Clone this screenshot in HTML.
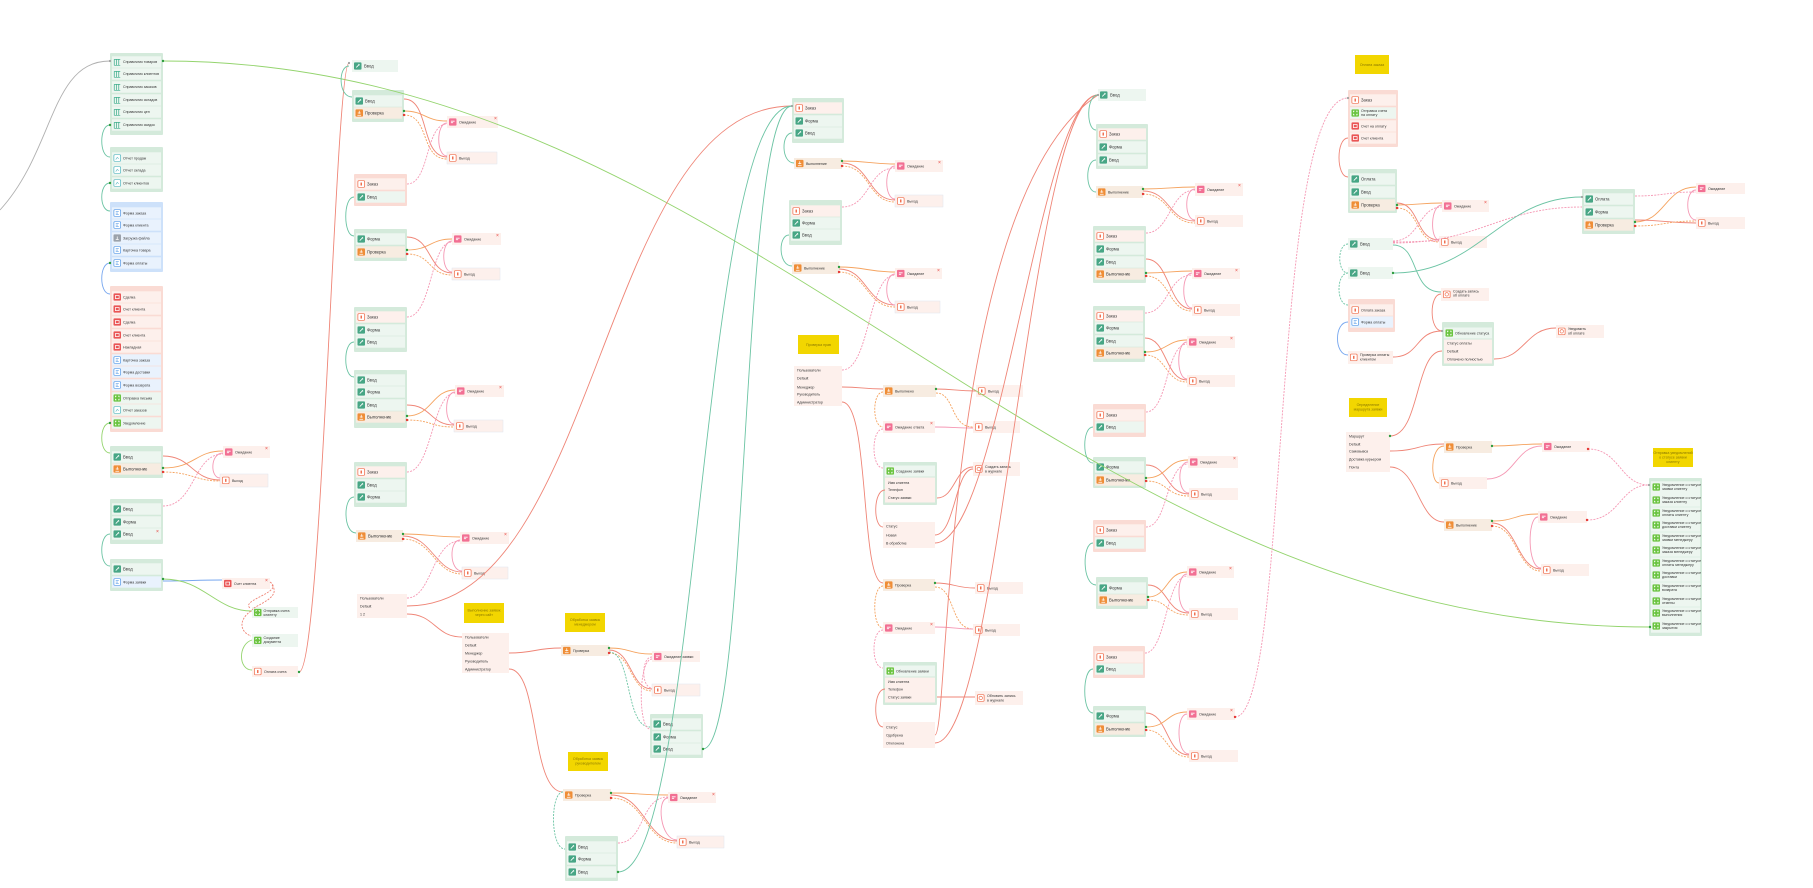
<!DOCTYPE html>
<html><head><meta charset="utf-8"><style>
html,body{margin:0;padding:0;background:#fff;}
svg{display:block;}
.t{font-family:"Liberation Sans",sans-serif;font-size:4.2px;fill:#333;}
.s{font-family:"Liberation Sans",sans-serif;font-size:3.6px;fill:#333;}
.n{font-family:"Liberation Sans",sans-serif;font-size:3.6px;fill:#8a7800;text-anchor:middle;}
.x{font-family:"Liberation Sans",sans-serif;font-size:5px;fill:#e53935;}
.L path{fill:none;stroke-width:0.9;}
.o{stroke:#f5a461;}
.r{stroke:#ef8577;}
.p{stroke:#f598b4;stroke-dasharray:2 1.2;}
.ps{stroke:#f598b4;}
.tl{stroke:#6cc4a4;}
.td{stroke:#6cc4a4;stroke-dasharray:2 1.2;}
.od{stroke:#f5a461;stroke-dasharray:2 1.2;}
.rd{stroke:#ef8577;stroke-dasharray:2 1.2;}
.g{stroke:#94d46e;}
.b{stroke:#77a7ef;}
.gr{stroke:#b0b0b0;}
</style></head><body>
<svg width="1813" height="888" viewBox="0 0 1813 888" xmlns="http://www.w3.org/2000/svg">
<defs>
<symbol id="iT" viewBox="0 0 10 10"><rect width="10" height="10" rx="1.5" fill="#47a685"/><path d="M3 7L7 3M6 2.5l1.5 1.5" stroke="#fff" stroke-width="1.1" fill="none"/></symbol>
<symbol id="iO" viewBox="0 0 10 10"><rect width="10" height="10" rx="1.5" fill="#ef8d36"/><path d="M5 2v4M3 5h4M2.5 8h5" stroke="#fff" stroke-width="1" fill="none"/></symbol>
<symbol id="iRo" viewBox="0 0 10 10"><rect x=".5" y=".5" width="9" height="9" rx="1.5" fill="#fff" stroke="#f07050"/><rect x="4" y="3" width="2" height="4" fill="#f07050"/></symbol>
<symbol id="iP" viewBox="0 0 10 10"><rect width="10" height="10" rx="1.5" fill="#f26f93"/><path d="M2.5 4h5M2.5 6h3" stroke="#fff" stroke-width="1.1" fill="none"/></symbol>
<symbol id="iR" viewBox="0 0 10 10"><rect width="10" height="10" rx="1.5" fill="#ea5555"/><rect x="2.5" y="3" width="5" height="4" fill="none" stroke="#fff" stroke-width="1"/></symbol>
<symbol id="iG" viewBox="0 0 10 10"><rect width="10" height="10" rx="1.5" fill="#6bc441"/><path d="M2.5 4V2.5H4M6 2.5h1.5V4M7.5 6v1.5H6M4 7.5H2.5V6" stroke="#fff" stroke-width="1" fill="none"/></symbol>
<symbol id="iB" viewBox="0 0 10 10"><rect x=".5" y=".5" width="9" height="9" rx="1.5" fill="#fff" stroke="#5c9de8"/><path d="M3 3h4M3 5h3M3 7h4" stroke="#5c9de8" stroke-width=".8"/></symbol>
<symbol id="iTo" viewBox="0 0 10 10"><rect x=".5" y=".5" width="9" height="9" rx="1.5" fill="#fff" stroke="#5bbac4"/><path d="M3 7l2-3 2 2" stroke="#5bbac4" stroke-width=".8" fill="none"/></symbol>
<symbol id="iGr" viewBox="0 0 10 10"><rect width="10" height="10" rx="1.5" fill="#9ba2ab"/><path d="M3 7h4M5 3v4" stroke="#fff" stroke-width="1"/></symbol>
<symbol id="iTab" viewBox="0 0 10 10"><path d="M1 1.5h8M1 1.5v8M4 1.5v8M7 1.5v8M1 9.5h8" stroke="#3fae8c" stroke-width="1" fill="none"/></symbol>
<symbol id="iC" viewBox="0 0 10 10"><rect x=".5" y=".5" width="9" height="9" rx="1.5" fill="#fff" stroke="#f07050"/><circle cx="5" cy="5" r="2.3" fill="none" stroke="#f07050" stroke-width=".9"/></symbol>
</defs>
<rect width="1813" height="888" fill="#fff"/>

<g id="nodes">
<rect x="110" y="53" width="53" height="82" rx="1" fill="#d4eadb"/>
<rect x="112" y="56.3" width="49" height="11.4" fill="#edf6f0"/><use href="#iTab" x="113.5" y="58.3" width="7.5" height="7.5"/><text class="s" x="123" y="63">Справочник товаров</text>
<rect x="112" y="68.3" width="49" height="11.4" fill="#edf6f0"/><use href="#iTab" x="113.5" y="70.3" width="7.5" height="7.5"/><text class="s" x="123" y="75">Справочник клиентов</text>
<rect x="112" y="81.3" width="49" height="11.4" fill="#edf6f0"/><use href="#iTab" x="113.5" y="83.3" width="7.5" height="7.5"/><text class="s" x="123" y="88">Справочник заказов</text>
<rect x="112" y="94.3" width="49" height="11.4" fill="#edf6f0"/><use href="#iTab" x="113.5" y="96.3" width="7.5" height="7.5"/><text class="s" x="123" y="101">Справочник складов</text>
<rect x="112" y="106.3" width="49" height="11.4" fill="#edf6f0"/><use href="#iTab" x="113.5" y="108.3" width="7.5" height="7.5"/><text class="s" x="123" y="113">Справочник цен</text>
<rect x="112" y="119.3" width="49" height="11.4" fill="#edf6f0"/><use href="#iTab" x="113.5" y="121.3" width="7.5" height="7.5"/><text class="s" x="123" y="126">Справочник скидок</text>
<rect x="110" y="147" width="53" height="45" rx="1" fill="#d4eadb"/>
<rect x="112" y="152.3" width="49" height="11.4" fill="#edf6f0"/><use href="#iTo" x="113.5" y="154.3" width="7.5" height="7.5"/><text class="s" x="123" y="159.5">Отчет продаж</text>
<rect x="112" y="164.3" width="49" height="11.4" fill="#edf6f0"/><use href="#iTo" x="113.5" y="166.3" width="7.5" height="7.5"/><text class="s" x="123" y="171.5">Отчет склада</text>
<rect x="112" y="177.3" width="49" height="11.4" fill="#edf6f0"/><use href="#iTo" x="113.5" y="179.3" width="7.5" height="7.5"/><text class="s" x="123" y="184.5">Отчет клиентов</text>
<rect x="110" y="202" width="53" height="70" rx="1" fill="#cde1fa"/>
<rect x="112" y="207.3" width="49" height="11.4" fill="#e9f2fd"/><use href="#iB" x="113.5" y="209.3" width="7.5" height="7.5"/><text class="s" x="123" y="214.5">Форма заказа</text>
<rect x="112" y="219.3" width="49" height="11.4" fill="#e9f2fd"/><use href="#iB" x="113.5" y="221.3" width="7.5" height="7.5"/><text class="s" x="123" y="226.5">Форма клиента</text>
<rect x="112" y="232.3" width="49" height="11.4" fill="#e9f2fd"/><use href="#iGr" x="113.5" y="234.3" width="7.5" height="7.5"/><text class="s" x="123" y="239.5">Загрузка файла</text>
<rect x="112" y="244.3" width="49" height="11.4" fill="#e9f2fd"/><use href="#iB" x="113.5" y="246.3" width="7.5" height="7.5"/><text class="s" x="123" y="251.5">Карточка товара</text>
<rect x="112" y="257.3" width="49" height="11.4" fill="#e9f2fd"/><use href="#iB" x="113.5" y="259.3" width="7.5" height="7.5"/><text class="s" x="123" y="264.5">Форма оплаты</text>
<rect x="110" y="286" width="53" height="146" rx="1" fill="#fadbd4"/>
<rect x="112" y="291.3" width="49" height="11.4" fill="#fdf0ec"/><use href="#iR" x="113.5" y="293.3" width="7.5" height="7.5"/><text class="s" x="123" y="298.5">Сделка</text>
<rect x="112" y="303.3" width="49" height="11.4" fill="#fdf0ec"/><use href="#iR" x="113.5" y="305.3" width="7.5" height="7.5"/><text class="s" x="123" y="310.5">Счет клиента</text>
<rect x="112" y="316.3" width="49" height="11.4" fill="#fdf0ec"/><use href="#iR" x="113.5" y="318.3" width="7.5" height="7.5"/><text class="s" x="123" y="323.5">Сделка</text>
<rect x="112" y="329.3" width="49" height="11.4" fill="#fdf0ec"/><use href="#iR" x="113.5" y="331.3" width="7.5" height="7.5"/><text class="s" x="123" y="336.5">Счет клиента</text>
<rect x="112" y="341.3" width="49" height="11.4" fill="#fdf0ec"/><use href="#iR" x="113.5" y="343.3" width="7.5" height="7.5"/><text class="s" x="123" y="348.5">Накладная</text>
<rect x="112" y="354.3" width="49" height="11.4" fill="#e9f2fd"/><use href="#iB" x="113.5" y="356.3" width="7.5" height="7.5"/><text class="s" x="123" y="361.5">Карточка заказа</text>
<rect x="112" y="366.3" width="49" height="11.4" fill="#e9f2fd"/><use href="#iB" x="113.5" y="368.3" width="7.5" height="7.5"/><text class="s" x="123" y="373.5">Форма доставки</text>
<rect x="112" y="379.3" width="49" height="11.4" fill="#e9f2fd"/><use href="#iB" x="113.5" y="381.3" width="7.5" height="7.5"/><text class="s" x="123" y="386.5">Форма возврата</text>
<rect x="112" y="392.3" width="49" height="11.4" fill="#edf6f0"/><use href="#iG" x="113.5" y="394.3" width="7.5" height="7.5"/><text class="s" x="123" y="399.5">Отправка письма</text>
<rect x="112" y="404.3" width="49" height="11.4" fill="#edf6f0"/><use href="#iTo" x="113.5" y="406.3" width="7.5" height="7.5"/><text class="s" x="123" y="411.5">Отчет заказов</text>
<rect x="112" y="417.3" width="49" height="11.4" fill="#edf6f0"/><use href="#iG" x="113.5" y="419.3" width="7.5" height="7.5"/><text class="s" x="123" y="424.5">Уведомление</text>
<rect x="110" y="446" width="53" height="32" rx="1" fill="#d4eadb"/>
<rect x="112" y="451.3" width="49" height="11.4" fill="#edf6f0"/><use href="#iT" x="113.5" y="453.3" width="7.5" height="7.5"/><text class="t" x="123" y="458.5">Ввод</text>
<rect x="112" y="463.3" width="49" height="11.4" fill="#f7ece1"/><use href="#iO" x="113.5" y="465.3" width="7.5" height="7.5"/><text class="t" x="123" y="470.5">Выполнение</text>
<rect x="110" y="499" width="53" height="45" rx="1" fill="#d4eadb"/>
<rect x="112" y="503.3" width="49" height="11.4" fill="#edf6f0"/><use href="#iT" x="113.5" y="505.3" width="7.5" height="7.5"/><text class="t" x="123" y="510.5">Ввод</text>
<rect x="112" y="516.3" width="49" height="11.4" fill="#edf6f0"/><use href="#iT" x="113.5" y="518.3" width="7.5" height="7.5"/><text class="t" x="123" y="523.5">Форма</text>
<rect x="112" y="528.3" width="49" height="11.4" fill="#edf6f0"/><use href="#iT" x="113.5" y="530.3" width="7.5" height="7.5"/><text class="t" x="123" y="535.5">Ввод</text>
<text class="x" x="156" y="533">×</text>
<rect x="110" y="559" width="53" height="32" rx="1" fill="#d4eadb"/>
<rect x="112" y="563.3" width="49" height="11.4" fill="#edf6f0"/><use href="#iT" x="113.5" y="565.3" width="7.5" height="7.5"/><text class="t" x="123" y="570.5">Ввод</text>
<rect x="112" y="576.3" width="49" height="11.4" fill="#e9f2fd"/><use href="#iB" x="113.5" y="578.3" width="7.5" height="7.5"/><text class="s" x="123" y="583.5">Форма заявки</text>

<rect x="223" y="446" width="47" height="12" fill="#fdf0ec"/><use href="#iP" x="225" y="448.2" width="7.5" height="7.5"/><text class="s" x="235" y="453.5">Ожидание</text><text class="x" x="265" y="450">×</text>
<rect x="220" y="474" width="48" height="13" fill="#fdf0ec" stroke="#dfe6ef" stroke-width=".5"/><use href="#iRo" x="222" y="476.6" width="7.5" height="7.5"/><text class="s" x="232" y="482">Выход</text>
<rect x="222" y="578" width="48" height="11" fill="#fdf0ec"/><use href="#iR" x="224" y="579.8" width="7.5" height="7.5"/><text class="s" x="234" y="585">Счет клиента</text><text class="x" x="265" y="582">×</text>
<rect x="252" y="607" width="46" height="11" fill="#edf6f0"/><use href="#iG" x="254" y="608.8" width="7.5" height="7.5"/><text class="s" x="263.5" y="612">Отправка счета</text><text class="s" x="263.5" y="616">клиенту</text>
<rect x="252" y="634" width="46" height="13" fill="#edf6f0"/><use href="#iG" x="254" y="636.6" width="7.5" height="7.5"/><text class="s" x="263.5" y="639">Создание</text><text class="s" x="263.5" y="643">документа</text>
<rect x="252" y="666" width="46" height="11" fill="#fdf0ec"/><use href="#iRo" x="254" y="667.8" width="7.5" height="7.5"/><text class="s" x="264" y="673">Оплата счета</text>

<rect x="352" y="60" width="46" height="12" fill="#edf6f0"/><use href="#iT" x="354" y="62.2" width="7.5" height="7.5"/><text class="t" x="364" y="67.5">Ввод</text>
<rect x="352" y="90" width="52" height="32" rx="1" fill="#d4eadb"/>
<rect x="354" y="95.3" width="48" height="11.4" fill="#edf6f0"/><use href="#iT" x="355.5" y="97.3" width="7.5" height="7.5"/><text class="t" x="365" y="102.5">Ввод</text>
<rect x="354" y="107.3" width="48" height="11.4" fill="#f7ece1"/><use href="#iO" x="355.5" y="109.3" width="7.5" height="7.5"/><text class="t" x="365" y="114.5">Проверка</text>

<rect x="354" y="174" width="53" height="32" rx="1" fill="#fadbd4"/>
<rect x="356" y="178.3" width="49" height="11.4" fill="#fdf0ec"/><use href="#iRo" x="357.5" y="180.3" width="7.5" height="7.5"/><text class="t" x="367" y="185.5">Заказ</text>
<rect x="356" y="191.3" width="49" height="11.4" fill="#edf6f0"/><use href="#iT" x="357.5" y="193.3" width="7.5" height="7.5"/><text class="t" x="367" y="198.5">Ввод</text>

<rect x="354" y="229" width="53" height="32" rx="1" fill="#d4eadb"/>
<rect x="356" y="233.3" width="49" height="11.4" fill="#edf6f0"/><use href="#iT" x="357.5" y="235.3" width="7.5" height="7.5"/><text class="t" x="367" y="240.5">Форма</text>
<rect x="356" y="246.3" width="49" height="11.4" fill="#f7ece1"/><use href="#iO" x="357.5" y="248.3" width="7.5" height="7.5"/><text class="t" x="367" y="253.5">Проверка</text>

<rect x="354" y="307" width="53" height="45" rx="1" fill="#d4eadb"/>
<rect x="356" y="311.3" width="49" height="11.4" fill="#fdf0ec"/><use href="#iRo" x="357.5" y="313.3" width="7.5" height="7.5"/><text class="t" x="367" y="318.5">Заказ</text>
<rect x="356" y="324.3" width="49" height="11.4" fill="#edf6f0"/><use href="#iT" x="357.5" y="326.3" width="7.5" height="7.5"/><text class="t" x="367" y="331.5">Форма</text>
<rect x="356" y="336.3" width="49" height="11.4" fill="#edf6f0"/><use href="#iT" x="357.5" y="338.3" width="7.5" height="7.5"/><text class="t" x="367" y="343.5">Ввод</text>

<rect x="354" y="370" width="53" height="58" rx="1" fill="#d4eadb"/>
<rect x="356" y="374.3" width="49" height="11.4" fill="#edf6f0"/><use href="#iT" x="357.5" y="376.3" width="7.5" height="7.5"/><text class="t" x="367" y="381.5">Ввод</text>
<rect x="356" y="386.3" width="49" height="11.4" fill="#edf6f0"/><use href="#iT" x="357.5" y="388.3" width="7.5" height="7.5"/><text class="t" x="367" y="393.5">Форма</text>
<rect x="356" y="399.3" width="49" height="11.4" fill="#edf6f0"/><use href="#iT" x="357.5" y="401.3" width="7.5" height="7.5"/><text class="t" x="367" y="406.5">Ввод</text>
<rect x="356" y="411.3" width="49" height="11.4" fill="#f7ece1"/><use href="#iO" x="357.5" y="413.3" width="7.5" height="7.5"/><text class="t" x="367" y="418.5">Выполнение</text>

<rect x="354" y="462" width="53" height="45" rx="1" fill="#d4eadb"/>
<rect x="356" y="466.3" width="49" height="11.4" fill="#fdf0ec"/><use href="#iRo" x="357.5" y="468.3" width="7.5" height="7.5"/><text class="t" x="367" y="473.5">Заказ</text>
<rect x="356" y="479.3" width="49" height="11.4" fill="#edf6f0"/><use href="#iT" x="357.5" y="481.3" width="7.5" height="7.5"/><text class="t" x="367" y="486.5">Ввод</text>
<rect x="356" y="491.3" width="49" height="11.4" fill="#edf6f0"/><use href="#iT" x="357.5" y="493.3" width="7.5" height="7.5"/><text class="t" x="367" y="498.5">Форма</text>

<rect x="356" y="530" width="47" height="12" fill="#f7ece1"/><use href="#iO" x="358" y="532.2" width="7.5" height="7.5"/><text class="t" x="368" y="537.5">Выполнение</text>
<rect x="357" y="594" width="50" height="24" fill="#fdf0ec"/><text class="s" x="360" y="599.5">Пользователи</text><text class="s" x="360" y="607.5">Default</text><text class="s" x="360" y="615.5">1 2</text>

<rect x="447" y="116" width="51" height="12" fill="#fdf0ec"/><use href="#iP" x="449" y="118.2" width="7.5" height="7.5"/><text class="s" x="459" y="123.5">Ожидание</text><text class="x" x="494" y="120">×</text>
<rect x="447" y="152" width="50" height="12" fill="#fdf0ec" stroke="#dfe6ef" stroke-width=".5"/><use href="#iRo" x="449" y="154.2" width="7.5" height="7.5"/><text class="s" x="459" y="159.5">Выход</text>
<rect x="452" y="233" width="49" height="12" fill="#fdf0ec"/><use href="#iP" x="454" y="235.2" width="7.5" height="7.5"/><text class="s" x="464" y="240.5">Ожидание</text><text class="x" x="496" y="237">×</text>
<rect x="452" y="268" width="48" height="12" fill="#fdf0ec" stroke="#dfe6ef" stroke-width=".5"/><use href="#iRo" x="454" y="270.2" width="7.5" height="7.5"/><text class="s" x="464" y="275.5">Выход</text>
<rect x="455" y="385" width="49" height="12" fill="#fdf0ec"/><use href="#iP" x="457" y="387.2" width="7.5" height="7.5"/><text class="s" x="467" y="392.5">Ожидание</text><text class="x" x="499" y="389">×</text>
<rect x="454" y="420" width="49" height="12" fill="#fdf0ec" stroke="#dfe6ef" stroke-width=".5"/><use href="#iRo" x="456" y="422.2" width="7.5" height="7.5"/><text class="s" x="466" y="427.5">Выход</text>
<rect x="460" y="532" width="49" height="12" fill="#fdf0ec"/><use href="#iP" x="462" y="534.2" width="7.5" height="7.5"/><text class="s" x="472" y="539.5">Ожидание</text><text class="x" x="504" y="536">×</text>
<rect x="462" y="567" width="46" height="12" fill="#fdf0ec" stroke="#dfe6ef" stroke-width=".5"/><use href="#iRo" x="464" y="569.2" width="7.5" height="7.5"/><text class="s" x="474" y="574.5">Выход</text>

<rect x="464" y="603" width="40" height="20" fill="#f2d600"/><text class="n" x="484" y="611.5">Выполнение заявок</text><text class="n" x="484" y="616">через сайт</text>
<rect x="565" y="613" width="40" height="19" fill="#f2d600"/><text class="n" x="585" y="621">Обработка заявок</text><text class="n" x="585" y="625.5">менеджером</text>
<rect x="568" y="752" width="40" height="19" fill="#f2d600"/><text class="n" x="588" y="760">Обработка заявок</text><text class="n" x="588" y="764.5">руководителем</text>
<rect x="798" y="335" width="41" height="19" fill="#f2d600"/><text class="n" x="818.5" y="346">Проверка прав</text>
<rect x="1355" y="55" width="34" height="19" fill="#f2d600"/><text class="n" x="1372" y="66">Оплата заказа</text>
<rect x="1349" y="398" width="38" height="19" fill="#f2d600"/><text class="n" x="1368" y="406">Определение</text><text class="n" x="1368" y="410.5">маршрута заявки</text>
<rect x="1653" y="448" width="40" height="19" fill="#f2d600"/><text class="n" x="1673" y="454">Отправка уведомлений</text><text class="n" x="1673" y="458.5">о статусе заявки</text><text class="n" x="1673" y="463">клиенту</text>

<rect x="462" y="633" width="47" height="40" fill="#fdf0ec"/><text class="s" x="465" y="638.5">Пользователи</text><text class="s" x="465" y="646.5">Default</text><text class="s" x="465" y="654.5">Менеджер</text><text class="s" x="465" y="662.5">Руководитель</text><text class="s" x="465" y="670.5">Администратор</text>
<rect x="561" y="645" width="48" height="11" fill="#f7ece1"/><use href="#iO" x="563" y="646.8" width="7.5" height="7.5"/><text class="s" x="573" y="652">Проверка</text>
<rect x="652" y="651" width="48" height="11" fill="#fdf0ec"/><use href="#iP" x="654" y="652.8" width="7.5" height="7.5"/><text class="s" x="664" y="658">Ожидание заявки</text>
<rect x="652" y="684" width="48" height="12" fill="#fdf0ec" stroke="#dfe6ef" stroke-width=".5"/><use href="#iRo" x="654" y="686.2" width="7.5" height="7.5"/><text class="s" x="664" y="691.5">Выход</text>
<rect x="650" y="714" width="53" height="44" rx="1" fill="#d4eadb"/>
<rect x="652" y="718.3" width="49" height="11.4" fill="#edf6f0"/><use href="#iT" x="653.5" y="720.3" width="7.5" height="7.5"/><text class="t" x="663" y="725.5">Ввод</text>
<rect x="652" y="731.3" width="49" height="11.4" fill="#edf6f0"/><use href="#iT" x="653.5" y="733.3" width="7.5" height="7.5"/><text class="t" x="663" y="738.5">Форма</text>
<rect x="652" y="743.3" width="49" height="11.4" fill="#edf6f0"/><use href="#iT" x="653.5" y="745.3" width="7.5" height="7.5"/><text class="t" x="663" y="750.5">Ввод</text>
<rect x="563" y="789" width="48" height="12" fill="#f7ece1"/><use href="#iO" x="565" y="791.2" width="7.5" height="7.5"/><text class="s" x="575" y="796.5">Проверка</text>
<rect x="668" y="792" width="48" height="11" fill="#fdf0ec"/><use href="#iP" x="670" y="793.8" width="7.5" height="7.5"/><text class="s" x="680" y="799">Ожидание</text><text class="x" x="712" y="796">×</text>
<rect x="677" y="836" width="47" height="12" fill="#fdf0ec" stroke="#dfe6ef" stroke-width=".5"/><use href="#iRo" x="679" y="838.2" width="7.5" height="7.5"/><text class="s" x="689" y="843.5">Выход</text>
<rect x="565" y="836" width="53" height="45" rx="1" fill="#d4eadb"/>
<rect x="567" y="841.3" width="49" height="11.4" fill="#edf6f0"/><use href="#iT" x="568.5" y="843.3" width="7.5" height="7.5"/><text class="t" x="578" y="848.5">Ввод</text>
<rect x="567" y="853.3" width="49" height="11.4" fill="#edf6f0"/><use href="#iT" x="568.5" y="855.3" width="7.5" height="7.5"/><text class="t" x="578" y="860.5">Форма</text>
<rect x="567" y="866.3" width="49" height="11.4" fill="#edf6f0"/><use href="#iT" x="568.5" y="868.3" width="7.5" height="7.5"/><text class="t" x="578" y="873.5">Ввод</text>

<rect x="792" y="98" width="52" height="45" rx="1" fill="#d4eadb"/>
<rect x="794" y="102.3" width="48" height="11.4" fill="#fdf0ec"/><use href="#iRo" x="795.5" y="104.3" width="7.5" height="7.5"/><text class="t" x="805" y="109.5">Заказ</text>
<rect x="794" y="115.3" width="48" height="11.4" fill="#edf6f0"/><use href="#iT" x="795.5" y="117.3" width="7.5" height="7.5"/><text class="t" x="805" y="122.5">Форма</text>
<rect x="794" y="127.3" width="48" height="11.4" fill="#edf6f0"/><use href="#iT" x="795.5" y="129.3" width="7.5" height="7.5"/><text class="t" x="805" y="134.5">Ввод</text>
<rect x="794" y="158" width="48" height="11" fill="#f7ece1"/><use href="#iO" x="796" y="159.8" width="7.5" height="7.5"/><text class="s" x="806" y="165">Выполнение</text>
<rect x="895" y="160" width="48" height="12" fill="#fdf0ec"/><use href="#iP" x="897" y="162.2" width="7.5" height="7.5"/><text class="s" x="907" y="167.5">Ожидание</text><text class="x" x="938" y="164">×</text>
<rect x="895" y="195" width="48" height="12" fill="#fdf0ec" stroke="#dfe6ef" stroke-width=".5"/><use href="#iRo" x="897" y="197.2" width="7.5" height="7.5"/><text class="s" x="907" y="202.5">Выход</text>
<rect x="789" y="200" width="53" height="45" rx="1" fill="#d4eadb"/>
<rect x="791" y="205.3" width="49" height="11.4" fill="#fdf0ec"/><use href="#iRo" x="792.5" y="207.3" width="7.5" height="7.5"/><text class="t" x="802" y="212.5">Заказ</text>
<rect x="791" y="217.3" width="49" height="11.4" fill="#edf6f0"/><use href="#iT" x="792.5" y="219.3" width="7.5" height="7.5"/><text class="t" x="802" y="224.5">Форма</text>
<rect x="791" y="229.3" width="49" height="11.4" fill="#edf6f0"/><use href="#iT" x="792.5" y="231.3" width="7.5" height="7.5"/><text class="t" x="802" y="236.5">Ввод</text>
<rect x="792" y="262" width="47" height="12" fill="#f7ece1"/><use href="#iO" x="794" y="264.2" width="7.5" height="7.5"/><text class="s" x="804" y="269.5">Выполнение</text>
<rect x="895" y="268" width="47" height="11" fill="#fdf0ec"/><use href="#iP" x="897" y="269.8" width="7.5" height="7.5"/><text class="s" x="907" y="275">Ожидание</text><text class="x" x="937" y="272">×</text>
<rect x="895" y="301" width="45" height="12" fill="#fdf0ec" stroke="#dfe6ef" stroke-width=".5"/><use href="#iRo" x="897" y="303.2" width="7.5" height="7.5"/><text class="s" x="907" y="308.5">Выход</text>
<rect x="794" y="366" width="48" height="40" fill="#fdf0ec"/><text class="s" x="797" y="371.5">Пользователи</text><text class="s" x="797" y="379.5">Default</text><text class="s" x="797" y="388.5">Менеджер</text><text class="s" x="797" y="395.5">Руководитель</text><text class="s" x="797" y="403.5">Администратор</text>

<rect x="883" y="385" width="53" height="12" fill="#f7ece1"/><use href="#iO" x="885" y="387.2" width="7.5" height="7.5"/><text class="s" x="895" y="392.5">Выполнено</text>
<rect x="883" y="421" width="52" height="12" fill="#fdf0ec"/><use href="#iP" x="885" y="423.2" width="7.5" height="7.5"/><text class="s" x="895" y="428.5">Ожидание ответа</text><text class="x" x="930" y="425">×</text>
<rect x="883" y="462" width="54" height="43" rx="1" fill="#d4eadb"/>
<rect x="885" y="465.5" width="50" height="11" fill="#edf6f0"/><use href="#iG" x="886.5" y="467.2" width="7.5" height="7.5"/><text class="s" x="896" y="472.5">Создание заявки</text>
<rect x="885" y="477.5" width="50" height="25" fill="#fdf0ec"/><text class="s" x="888" y="484">Имя клиента</text><text class="s" x="888" y="491">Телефон</text><text class="s" x="888" y="499">Статус заявки</text>
<rect x="883" y="522" width="52" height="26" fill="#fdf0ec"/><text class="s" x="886" y="527.5">Статус</text><text class="s" x="886" y="536.5">Новая</text><text class="s" x="886" y="544.5">В обработке</text>
<rect x="883" y="579" width="52" height="12" fill="#f7ece1"/><use href="#iO" x="885" y="581.2" width="7.5" height="7.5"/><text class="s" x="895" y="586.5">Проверка</text>
<rect x="883" y="622" width="52" height="12" fill="#fdf0ec"/><use href="#iP" x="885" y="624.2" width="7.5" height="7.5"/><text class="s" x="895" y="629.5">Ожидание</text><text class="x" x="930" y="626">×</text>
<rect x="883" y="662" width="54" height="43" rx="1" fill="#d4eadb"/>
<rect x="885" y="665.5" width="50" height="11" fill="#edf6f0"/><use href="#iG" x="886.5" y="667.2" width="7.5" height="7.5"/><text class="s" x="896" y="672.5">Обновление заявки</text>
<rect x="885" y="677.5" width="50" height="25" fill="#fdf0ec"/><text class="s" x="888" y="683">Имя клиента</text><text class="s" x="888" y="690.5">Телефон</text><text class="s" x="888" y="698.5">Статус заявки</text>
<rect x="883" y="722" width="52" height="26" fill="#fdf0ec"/><text class="s" x="886" y="728.5">Статус</text><text class="s" x="886" y="736.5">Одобрена</text><text class="s" x="886" y="744.5">Отклонена</text>

<rect x="976" y="385" width="47" height="12" fill="#fdf0ec"/><use href="#iRo" x="978" y="387.2" width="7.5" height="7.5"/><text class="s" x="988" y="392.5">Выход</text>
<rect x="973" y="421" width="47" height="12" fill="#fdf0ec"/><use href="#iRo" x="975" y="423.2" width="7.5" height="7.5"/><text class="s" x="985" y="428.5">Выход</text>
<rect x="973" y="462" width="47" height="14" fill="#fdf0ec"/><use href="#iC" x="975" y="465.2" width="7.5" height="7.5"/><text class="s" x="985" y="468">Создать запись</text><text class="s" x="985" y="472.5">в журнале</text>
<rect x="975" y="582" width="48" height="12" fill="#fdf0ec"/><use href="#iRo" x="977" y="584.2" width="7.5" height="7.5"/><text class="s" x="987" y="589.5">Выход</text>
<rect x="973" y="624" width="47" height="12" fill="#fdf0ec"/><use href="#iRo" x="975" y="626.2" width="7.5" height="7.5"/><text class="s" x="985" y="631.5">Выход</text>
<rect x="975" y="691" width="48" height="14" fill="#fdf0ec"/><use href="#iC" x="977" y="694.2" width="7.5" height="7.5"/><text class="s" x="987" y="697">Обновить запись</text><text class="s" x="987" y="701.5">в журнале</text>

<rect x="1098" y="89" width="48" height="12" fill="#edf6f0"/><use href="#iT" x="1100" y="91.2" width="7.5" height="7.5"/><text class="t" x="1110" y="96.5">Ввод</text>
<rect x="1096" y="124" width="52" height="45" rx="1" fill="#d4eadb"/>
<rect x="1098" y="128.3" width="48" height="11.4" fill="#fdf0ec"/><use href="#iRo" x="1099.5" y="130.3" width="7.5" height="7.5"/><text class="t" x="1109" y="135.5">Заказ</text>
<rect x="1098" y="141.3" width="48" height="11.4" fill="#edf6f0"/><use href="#iT" x="1099.5" y="143.3" width="7.5" height="7.5"/><text class="t" x="1109" y="148.5">Форма</text>
<rect x="1098" y="154.3" width="48" height="11.4" fill="#edf6f0"/><use href="#iT" x="1099.5" y="156.3" width="7.5" height="7.5"/><text class="t" x="1109" y="161.5">Ввод</text>
<rect x="1096" y="186" width="47" height="12" fill="#f7ece1"/><use href="#iO" x="1098" y="188.2" width="7.5" height="7.5"/><text class="s" x="1108" y="193.5">Выполнение</text>
<rect x="1195" y="183" width="48" height="13" fill="#fdf0ec"/><use href="#iP" x="1197" y="185.6" width="7.5" height="7.5"/><text class="s" x="1207" y="191">Ожидание</text><text class="x" x="1238" y="187">×</text>
<rect x="1195" y="215" width="48" height="12" fill="#fdf0ec"/><use href="#iRo" x="1197" y="217.2" width="7.5" height="7.5"/><text class="s" x="1207" y="222.5">Выход</text>

<rect x="1093" y="226" width="53" height="57" rx="1" fill="#d4eadb"/>
<rect x="1095" y="230.3" width="49" height="11.4" fill="#fdf0ec"/><use href="#iRo" x="1096.5" y="232.3" width="7.5" height="7.5"/><text class="t" x="1106" y="237.5">Заказ</text>
<rect x="1095" y="243.3" width="49" height="11.4" fill="#edf6f0"/><use href="#iT" x="1096.5" y="245.3" width="7.5" height="7.5"/><text class="t" x="1106" y="250.5">Форма</text>
<rect x="1095" y="256.3" width="49" height="11.4" fill="#edf6f0"/><use href="#iT" x="1096.5" y="258.3" width="7.5" height="7.5"/><text class="t" x="1106" y="263.5">Ввод</text>
<rect x="1095" y="268.3" width="49" height="11.4" fill="#f7ece1"/><use href="#iO" x="1096.5" y="270.3" width="7.5" height="7.5"/><text class="t" x="1106" y="275.5">Выполнение</text>
<rect x="1192" y="268" width="48" height="11" fill="#fdf0ec"/><use href="#iP" x="1194" y="269.8" width="7.5" height="7.5"/><text class="s" x="1204" y="275">Ожидание</text><text class="x" x="1235" y="272">×</text>
<rect x="1192" y="304" width="48" height="12" fill="#fdf0ec"/><use href="#iRo" x="1194" y="306.2" width="7.5" height="7.5"/><text class="s" x="1204" y="311.5">Выход</text>

<rect x="1093" y="306" width="52" height="56" rx="1" fill="#d4eadb"/>
<rect x="1095" y="310.3" width="48" height="11.4" fill="#fdf0ec"/><use href="#iRo" x="1096.5" y="312.3" width="7.5" height="7.5"/><text class="t" x="1106" y="317.5">Заказ</text>
<rect x="1095" y="322.3" width="48" height="11.4" fill="#edf6f0"/><use href="#iT" x="1096.5" y="324.3" width="7.5" height="7.5"/><text class="t" x="1106" y="329.5">Форма</text>
<rect x="1095" y="335.3" width="48" height="11.4" fill="#edf6f0"/><use href="#iT" x="1096.5" y="337.3" width="7.5" height="7.5"/><text class="t" x="1106" y="342.5">Ввод</text>
<rect x="1095" y="347.3" width="48" height="11.4" fill="#f7ece1"/><use href="#iO" x="1096.5" y="349.3" width="7.5" height="7.5"/><text class="t" x="1106" y="354.5">Выполнение</text>
<rect x="1187" y="336" width="48" height="12" fill="#fdf0ec"/><use href="#iP" x="1189" y="338.2" width="7.5" height="7.5"/><text class="s" x="1199" y="343.5">Ожидание</text><text class="x" x="1230" y="340">×</text>
<rect x="1187" y="375" width="48" height="12" fill="#fdf0ec"/><use href="#iRo" x="1189" y="377.2" width="7.5" height="7.5"/><text class="s" x="1199" y="382.5">Выход</text>

<rect x="1093" y="404" width="53" height="33" rx="1" fill="#fadbd4"/>
<rect x="1095" y="409.3" width="49" height="11.4" fill="#fdf0ec"/><use href="#iRo" x="1096.5" y="411.3" width="7.5" height="7.5"/><text class="t" x="1106" y="416.5">Заказ</text>
<rect x="1095" y="421.3" width="49" height="11.4" fill="#edf6f0"/><use href="#iT" x="1096.5" y="423.3" width="7.5" height="7.5"/><text class="t" x="1106" y="428.5">Ввод</text>

<rect x="1093" y="457" width="53" height="31" rx="1" fill="#d4eadb"/>
<rect x="1095" y="461.3" width="49" height="11.4" fill="#edf6f0"/><use href="#iT" x="1096.5" y="463.3" width="7.5" height="7.5"/><text class="t" x="1106" y="468.5">Форма</text>
<rect x="1095" y="474.3" width="49" height="11.4" fill="#f7ece1"/><use href="#iO" x="1096.5" y="476.3" width="7.5" height="7.5"/><text class="t" x="1106" y="481.5">Выполнение</text>
<rect x="1188" y="456" width="50" height="12" fill="#fdf0ec"/><use href="#iP" x="1190" y="458.2" width="7.5" height="7.5"/><text class="s" x="1200" y="463.5">Ожидание</text><text class="x" x="1233" y="460">×</text>
<rect x="1189" y="488" width="49" height="12" fill="#fdf0ec"/><use href="#iRo" x="1191" y="490.2" width="7.5" height="7.5"/><text class="s" x="1201" y="495.5">Выход</text>

<rect x="1093" y="520" width="53" height="32" rx="1" fill="#fadbd4"/>
<rect x="1095" y="524.3" width="49" height="11.4" fill="#fdf0ec"/><use href="#iRo" x="1096.5" y="526.3" width="7.5" height="7.5"/><text class="t" x="1106" y="531.5">Заказ</text>
<rect x="1095" y="537.3" width="49" height="11.4" fill="#edf6f0"/><use href="#iT" x="1096.5" y="539.3" width="7.5" height="7.5"/><text class="t" x="1106" y="544.5">Ввод</text>

<rect x="1096" y="577" width="52" height="32" rx="1" fill="#d4eadb"/>
<rect x="1098" y="582.3" width="48" height="11.4" fill="#edf6f0"/><use href="#iT" x="1099.5" y="584.3" width="7.5" height="7.5"/><text class="t" x="1109" y="589.5">Форма</text>
<rect x="1098" y="594.3" width="48" height="11.4" fill="#f7ece1"/><use href="#iO" x="1099.5" y="596.3" width="7.5" height="7.5"/><text class="t" x="1109" y="601.5">Выполнение</text>
<rect x="1187" y="566" width="47" height="12" fill="#fdf0ec"/><use href="#iP" x="1189" y="568.2" width="7.5" height="7.5"/><text class="s" x="1199" y="573.5">Ожидание</text><text class="x" x="1229" y="570">×</text>
<rect x="1189" y="608" width="49" height="12" fill="#fdf0ec"/><use href="#iRo" x="1191" y="610.2" width="7.5" height="7.5"/><text class="s" x="1201" y="615.5">Выход</text>

<rect x="1093" y="646" width="52" height="32" rx="1" fill="#fadbd4"/>
<rect x="1095" y="651.3" width="48" height="11.4" fill="#fdf0ec"/><use href="#iRo" x="1096.5" y="653.3" width="7.5" height="7.5"/><text class="t" x="1106" y="658.5">Заказ</text>
<rect x="1095" y="663.3" width="48" height="11.4" fill="#edf6f0"/><use href="#iT" x="1096.5" y="665.3" width="7.5" height="7.5"/><text class="t" x="1106" y="670.5">Ввод</text>

<rect x="1093" y="706" width="53" height="31" rx="1" fill="#d4eadb"/>
<rect x="1095" y="710.3" width="49" height="11.4" fill="#edf6f0"/><use href="#iT" x="1096.5" y="712.3" width="7.5" height="7.5"/><text class="t" x="1106" y="717.5">Форма</text>
<rect x="1095" y="723.3" width="49" height="11.4" fill="#f7ece1"/><use href="#iO" x="1096.5" y="725.3" width="7.5" height="7.5"/><text class="t" x="1106" y="730.5">Выполнение</text>
<rect x="1187" y="708" width="48" height="12" fill="#fdf0ec"/><use href="#iP" x="1189" y="710.2" width="7.5" height="7.5"/><text class="s" x="1199" y="715.5">Ожидание</text><text class="x" x="1230" y="712">×</text>
<rect x="1189" y="750" width="49" height="12" fill="#fdf0ec"/><use href="#iRo" x="1191" y="752.2" width="7.5" height="7.5"/><text class="s" x="1201" y="757.5">Выход</text>

<rect x="1348" y="90" width="50" height="57" rx="1" fill="#fadbd4"/>
<rect x="1350" y="94.3" width="46" height="11.4" fill="#fdf0ec"/><use href="#iRo" x="1351.5" y="96.3" width="7.5" height="7.5"/><text class="t" x="1361" y="101.5">Заказ</text>
<rect x="1350" y="107.3" width="46" height="11.4" fill="#edf6f0"/><use href="#iG" x="1351.5" y="109.3" width="7.5" height="7.5"/><text class="s" x="1361" y="112">Отправка счета</text><text class="s" x="1361" y="116">на оплату</text>
<rect x="1350" y="120.3" width="46" height="11.4" fill="#fdf0ec"/><use href="#iR" x="1351.5" y="122.3" width="7.5" height="7.5"/><text class="s" x="1361" y="127.5">Счет на оплату</text>
<rect x="1350" y="132.3" width="46" height="11.4" fill="#fdf0ec"/><use href="#iR" x="1351.5" y="134.3" width="7.5" height="7.5"/><text class="s" x="1361" y="139.5">Счет клиента</text>

<rect x="1348" y="169" width="49" height="44" rx="1" fill="#d4eadb"/>
<rect x="1350" y="173.3" width="45" height="11.4" fill="#edf6f0"/><use href="#iT" x="1351.5" y="175.3" width="7.5" height="7.5"/><text class="t" x="1361" y="180.5">Оплата</text>
<rect x="1350" y="186.3" width="45" height="11.4" fill="#edf6f0"/><use href="#iT" x="1351.5" y="188.3" width="7.5" height="7.5"/><text class="t" x="1361" y="193.5">Ввод</text>
<rect x="1350" y="199.3" width="45" height="11.4" fill="#f7ece1"/><use href="#iO" x="1351.5" y="201.3" width="7.5" height="7.5"/><text class="t" x="1361" y="206.5">Проверка</text>
<rect x="1442" y="200" width="47" height="12" fill="#fdf0ec"/><use href="#iP" x="1444" y="202.2" width="7.5" height="7.5"/><text class="s" x="1454" y="207.5">Ожидание</text><text class="x" x="1484" y="204">×</text>
<rect x="1439" y="236" width="48" height="12" fill="#fdf0ec"/><use href="#iRo" x="1441" y="238.2" width="7.5" height="7.5"/><text class="s" x="1451" y="243.5">Выход</text>
<rect x="1348" y="238" width="45" height="12" fill="#edf6f0"/><use href="#iT" x="1350" y="240.2" width="7.5" height="7.5"/><text class="t" x="1360" y="245.5">Ввод</text>
<rect x="1348" y="267" width="45" height="12" fill="#edf6f0"/><use href="#iT" x="1350" y="269.2" width="7.5" height="7.5"/><text class="t" x="1360" y="274.5">Ввод</text>
<rect x="1348" y="299" width="47" height="33" rx="1" fill="#fadbd4"/>
<rect x="1350" y="304.3" width="43" height="11.4" fill="#fdf0ec"/><use href="#iRo" x="1351.5" y="306.3" width="7.5" height="7.5"/><text class="s" x="1361" y="311.5">Оплата заказа</text>
<rect x="1350" y="316.3" width="43" height="11.4" fill="#e9f2fd"/><use href="#iB" x="1351.5" y="318.3" width="7.5" height="7.5"/><text class="s" x="1361" y="323.5">Форма оплаты</text>
<rect x="1348" y="351" width="45" height="13" fill="#fdf0ec"/><use href="#iRo" x="1350" y="353.6" width="7.5" height="7.5"/><text class="s" x="1360" y="356">Проверка оплаты</text><text class="s" x="1360" y="360.5">клиентом</text>
<rect x="1441" y="288" width="48" height="13" fill="#fdf0ec"/><use href="#iC" x="1443" y="290.6" width="7.5" height="7.5"/><text class="s" x="1453" y="292.5">Создать запись</text><text class="s" x="1453" y="296.5">об оплате</text>
<rect x="1442" y="322" width="52" height="44" rx="1" fill="#d4eadb"/>
<rect x="1444" y="327.5" width="48" height="11" fill="#edf6f0"/><use href="#iG" x="1445.5" y="329.2" width="7.5" height="7.5"/><text class="s" x="1455" y="334.5">Обновление статуса</text>
<rect x="1444" y="339.5" width="48" height="24" fill="#fdf0ec"/><text class="s" x="1447" y="344.5">Статус оплаты</text><text class="s" x="1447" y="352.5">Default</text><text class="s" x="1447" y="360.5">Оплачено полностью</text>
<rect x="1556" y="325" width="48" height="13" fill="#fdf0ec"/><use href="#iC" x="1558" y="327.6" width="7.5" height="7.5"/><text class="s" x="1568" y="330">Уведомить</text><text class="s" x="1568" y="334.5">об оплате</text>
<rect x="1582" y="189" width="53" height="45" rx="1" fill="#d4eadb"/>
<rect x="1584" y="193.3" width="49" height="11.4" fill="#edf6f0"/><use href="#iT" x="1585.5" y="195.3" width="7.5" height="7.5"/><text class="t" x="1595" y="200.5">Оплата</text>
<rect x="1584" y="206.3" width="49" height="11.4" fill="#edf6f0"/><use href="#iT" x="1585.5" y="208.3" width="7.5" height="7.5"/><text class="t" x="1595" y="213.5">Форма</text>
<rect x="1584" y="219.3" width="49" height="11.4" fill="#f7ece1"/><use href="#iO" x="1585.5" y="221.3" width="7.5" height="7.5"/><text class="t" x="1595" y="226.5">Проверка</text>
<rect x="1696" y="183" width="49" height="11" fill="#fdf0ec"/><use href="#iP" x="1698" y="184.8" width="7.5" height="7.5"/><text class="s" x="1708" y="190">Ожидание</text>
<rect x="1696" y="217" width="49" height="12" fill="#fdf0ec"/><use href="#iRo" x="1698" y="219.2" width="7.5" height="7.5"/><text class="s" x="1708" y="224.5">Выход</text>

<rect x="1346" y="432" width="44" height="40" fill="#fdf0ec"/><text class="s" x="1349" y="437.5">Маршрут</text><text class="s" x="1349" y="445.5">Default</text><text class="s" x="1349" y="452.5">Самовывоз</text><text class="s" x="1349" y="460.5">Доставка курьером</text><text class="s" x="1349" y="468.5">Почта</text>
<rect x="1444" y="441" width="48" height="12" fill="#f7ece1"/><use href="#iO" x="1446" y="443.2" width="7.5" height="7.5"/><text class="s" x="1456" y="448.5">Проверка</text>
<rect x="1542" y="441" width="48" height="11" fill="#fdf0ec"/><use href="#iP" x="1544" y="442.8" width="7.5" height="7.5"/><text class="s" x="1554" y="448">Ожидание</text>
<rect x="1439" y="477" width="48" height="12" fill="#fdf0ec"/><use href="#iRo" x="1441" y="479.2" width="7.5" height="7.5"/><text class="s" x="1451" y="484.5">Выход</text>
<rect x="1444" y="519" width="48" height="12" fill="#f7ece1"/><use href="#iO" x="1446" y="521.2" width="7.5" height="7.5"/><text class="s" x="1456" y="526.5">Выполнение</text>
<rect x="1538" y="511" width="49" height="12" fill="#fdf0ec"/><use href="#iP" x="1540" y="513.2" width="7.5" height="7.5"/><text class="s" x="1550" y="518.5">Ожидание</text>
<rect x="1541" y="564" width="48" height="12" fill="#fdf0ec"/><use href="#iRo" x="1543" y="566.2" width="7.5" height="7.5"/><text class="s" x="1553" y="571.5">Выход</text>

<rect x="1649" y="478" width="53" height="158" rx="1" fill="#d4eadb"/>
<rect x="1651" y="481.3" width="49" height="151.4" fill="#edf6f0"/>
<use href="#iG" x="1652.5" y="483.3" width="7.5" height="7.5"/><text class="s" x="1662" y="486">Уведомление о статусе</text><text class="s" x="1662" y="490">заявки клиенту</text>
<use href="#iG" x="1652.5" y="496.3" width="7.5" height="7.5"/><text class="s" x="1662" y="499">Уведомление о статусе</text><text class="s" x="1662" y="503">заказа клиенту</text>
<use href="#iG" x="1652.5" y="509.3" width="7.5" height="7.5"/><text class="s" x="1662" y="512">Уведомление о статусе</text><text class="s" x="1662" y="516">оплаты клиенту</text>
<use href="#iG" x="1652.5" y="521.3" width="7.5" height="7.5"/><text class="s" x="1662" y="524">Уведомление о статусе</text><text class="s" x="1662" y="528">доставки клиенту</text>
<use href="#iG" x="1652.5" y="534.3" width="7.5" height="7.5"/><text class="s" x="1662" y="537">Уведомление о статусе</text><text class="s" x="1662" y="541">заявки менеджеру</text>
<use href="#iG" x="1652.5" y="546.3" width="7.5" height="7.5"/><text class="s" x="1662" y="549">Уведомление о статусе</text><text class="s" x="1662" y="553">заказа менеджеру</text>
<use href="#iG" x="1652.5" y="559.3" width="7.5" height="7.5"/><text class="s" x="1662" y="562">Уведомление о статусе</text><text class="s" x="1662" y="566">оплаты менеджеру</text>
<use href="#iG" x="1652.5" y="571.3" width="7.5" height="7.5"/><text class="s" x="1662" y="574">Уведомление о статусе</text><text class="s" x="1662" y="578">доставки</text>
<use href="#iG" x="1652.5" y="584.3" width="7.5" height="7.5"/><text class="s" x="1662" y="587">Уведомление о статусе</text><text class="s" x="1662" y="591">возврата</text>
<use href="#iG" x="1652.5" y="597.3" width="7.5" height="7.5"/><text class="s" x="1662" y="600">Уведомление о статусе</text><text class="s" x="1662" y="604">отмены</text>
<use href="#iG" x="1652.5" y="609.3" width="7.5" height="7.5"/><text class="s" x="1662" y="612">Уведомление о статусе</text><text class="s" x="1662" y="616">выполнения</text>
<use href="#iG" x="1652.5" y="622.3" width="7.5" height="7.5"/><text class="s" x="1662" y="625">Уведомление о статусе</text><text class="s" x="1662" y="629">закрытия</text>
<path d="M1651 507h49M1651 532h49M1651 557h49M1651 582h49M1651 607h49" stroke="#d4eadb" stroke-width=".6"/>
</g>

<g class="L">
<path class="gr" d="M0 210 C55 150 50 61 110 61"/>
<path class="g" d="M163 61 C750 61 1050 627 1650 627"/>
<path class="tl" d="M110 125 C99 125 99 157 110 157"/>
<path class="tl" d="M110 183 C99 183 99 211 110 211"/>
<path class="b" d="M110 263 C99 263 99 294 110 294"/>
<path class="g" d="M110 423 C99 423 99 453 110 453"/>
<path class="tl" d="M110 534 C99 534 99 566 110 566"/>

<path class="o" d="M163 468 C195 468 195 451 223 451"/>
<path class="r" d="M163 456 C192 456 192 480 220 480"/>
<path class="od" d="M163 472 C192 472 195 481 220 481"/>
<path class="ps" d="M223 453 C210 453 210 478 220 478"/>
<path class="p" d="M163 506 C195 506 193 454 223 454"/>

<path class="b" d="M163 581 C190 581 195 580 222 580"/>
<path class="g" d="M163 579 C205 579 215 611 252 611"/>
<path class="rd" d="M270 582 C285 592 240 600 250 608"/>
<path class="rd" d="M272 585 C282 598 255 605 252 610"/>
<path class="rd" d="M251 611 C238 620 240 632 251 636"/>
<path class="g" d="M252 640 C238 644 238 670 252 670"/>
<path class="r" d="M299 672 C322 672 335 63 349 63"/>

<path class="tl" d="M349 66 C338 66 338 97 352 97"/>
<path class="o" d="M404 111 C425 111 425 121 447 121"/>
<path class="r" d="M404 99 C430 99 420 157 447 157"/>
<path class="od" d="M404 115 C430 115 420 159 447 159"/>
<path class="ps" d="M447 123 C436 123 436 156 447 156"/>
<path class="p" d="M407 184 C430 184 425 124 447 124"/>

<path class="tl" d="M354 197 C343 197 343 236 354 236"/>
<path class="o" d="M407 250 C430 250 430 239 452 239"/>
<path class="r" d="M407 237 C432 237 428 273 452 273"/>
<path class="od" d="M407 254 C432 254 428 275 452 275"/>
<path class="ps" d="M452 241 C441 241 441 272 452 272"/>
<path class="p" d="M407 317 C432 317 430 242 452 242"/>

<path class="tl" d="M354 342 C343 342 343 377 354 377"/>
<path class="o" d="M407 416 C432 416 432 390 455 390"/>
<path class="r" d="M407 405 C432 405 430 425 454 425"/>
<path class="od" d="M407 420 C432 420 430 427 454 427"/>
<path class="ps" d="M455 392 C444 392 444 424 454 424"/>
<path class="p" d="M407 472 C432 472 432 393 455 393"/>

<path class="tl" d="M354 497 C343 497 343 533 356 533"/>
<path class="o" d="M403 534 C430 534 432 537 460 537"/>
<path class="r" d="M403 536 C432 536 435 572 462 572"/>
<path class="od" d="M403 539 C432 539 435 574 462 574"/>
<path class="ps" d="M460 540 C449 540 449 571 462 571"/>
<path class="p" d="M407 598 C432 598 432 541 460 541"/>
<path class="r" d="M407 606 C600 606 600 106 792 106"/>
<path class="r" d="M407 614 C435 614 435 637 462 637"/>

<path class="r" d="M509 653 C535 653 535 648 561 648"/>
<path class="r" d="M509 669 C540 669 530 792 563 792"/>
<path class="o" d="M609 648 C630 648 630 654 652 654"/>
<path class="r" d="M609 650 C632 650 630 689 652 689"/>
<path class="od" d="M609 653 C632 653 630 691 652 691"/>
<path class="td" d="M609 652 C632 652 625 727 650 727"/>
<path class="p" d="M652 657 C641 657 641 688 652 688"/>
<path class="p" d="M652 659 C638 659 638 729 650 729"/>
<path class="o" d="M611 793 C640 793 640 795 668 795"/>
<path class="r" d="M611 795 C645 795 645 841 677 841"/>
<path class="od" d="M611 798 C645 798 645 843 677 843"/>
<path class="ps" d="M668 798 C656 798 660 840 677 840"/>
<path class="p" d="M618 843 C645 843 640 797 668 797"/>
<path class="td" d="M563 792 C550 792 550 849 565 849"/>
<path class="tl" d="M618 872 C700 872 700 106 792 106"/>
<path class="tl" d="M703 749 C750 749 740 106 792 106"/>

<path class="tl" d="M792 133 C781 133 781 163 794 163"/>
<path class="o" d="M842 161 C870 161 870 164 895 164"/>
<path class="r" d="M842 163 C870 163 868 200 895 200"/>
<path class="od" d="M842 166 C870 166 868 202 895 202"/>
<path class="ps" d="M895 166 C884 166 884 199 895 199"/>
<path class="p" d="M842 207 C870 207 868 168 895 168"/>

<path class="tl" d="M789 235 C778 235 778 266 792 266"/>
<path class="o" d="M839 267 C867 267 867 272 895 272"/>
<path class="r" d="M839 269 C867 269 866 305 895 305"/>
<path class="od" d="M839 272 C867 272 866 307 895 307"/>
<path class="ps" d="M895 274 C884 274 884 305 895 305"/>
<path class="p" d="M842 370 C870 370 868 275 895 275"/>

<path class="r" d="M842 387 C862 387 862 389 883 389"/>
<path class="r" d="M842 402 C870 402 860 583 883 583"/>

<path class="od" d="M883 392 C872 392 872 427 883 427"/>
<path class="p" d="M883 429 C871 429 871 468 883 468"/>
<path class="r" d="M885 490 C873 490 873 527 883 527"/>
<path class="od" d="M883 586 C872 586 872 628 883 628"/>
<path class="p" d="M883 630 C871 630 871 668 883 668"/>
<path class="r" d="M885 689 C873 689 873 727 883 727"/>

<path class="r" d="M936 389 C955 389 955 391 976 391"/>
<path class="od" d="M936 393 C955 393 950 427 973 427"/>
<path class="ps" d="M935 427 C955 427 955 428 973 428"/>
<path class="r" d="M937 498 C955 498 955 467 973 467"/>
<path class="r" d="M935 535 C955 535 955 469 973 469"/>
<path class="r" d="M935 543 C1000 543 1040 95 1098 95"/>
<path class="r" d="M935 583 C955 583 955 588 975 588"/>
<path class="od" d="M935 587 C955 587 950 629 973 629"/>
<path class="ps" d="M935 627 C955 627 955 629 973 629"/>
<path class="r" d="M937 697 C955 697 955 697 975 697"/>
<path class="r" d="M935 735 C950 735 940 200 1098 95"/>
<path class="r" d="M935 743 C1000 743 1030 95 1098 95"/>

<path class="tl" d="M1098 95 C1086 95 1086 130 1096 130"/>
<path class="tl" d="M1096 160 C1085 160 1085 192 1096 192"/>
<path class="o" d="M1143 189 C1170 189 1170 187 1195 187"/>
<path class="r" d="M1143 191 C1170 191 1168 221 1195 221"/>
<path class="od" d="M1143 194 C1170 194 1168 223 1195 223"/>
<path class="ps" d="M1195 189 C1184 189 1184 220 1195 220"/>
<path class="p" d="M1146 233 C1170 233 1170 190 1195 190"/>

<path class="o" d="M1146 273 C1170 273 1170 271 1192 271"/>
<path class="r" d="M1146 259 C1170 259 1168 309 1192 309"/>
<path class="od" d="M1146 276 C1170 276 1168 311 1192 311"/>
<path class="ps" d="M1192 273 C1181 273 1181 308 1192 308"/>
<path class="p" d="M1145 313 C1168 313 1168 275 1192 275"/>

<path class="o" d="M1145 352 C1167 352 1167 340 1187 340"/>
<path class="r" d="M1145 338 C1167 338 1165 380 1187 380"/>
<path class="od" d="M1145 355 C1167 355 1165 382 1187 382"/>
<path class="ps" d="M1187 342 C1176 342 1176 379 1187 379"/>
<path class="p" d="M1146 412 C1168 412 1166 344 1187 344"/>

<path class="tl" d="M1093 427 C1082 427 1082 463 1093 463"/>
<path class="r" d="M1146 465 C1168 465 1166 494 1189 494"/>
<path class="o" d="M1146 478 C1168 478 1166 460 1188 460"/>
<path class="od" d="M1146 481 C1168 481 1166 496 1189 496"/>
<path class="ps" d="M1188 462 C1177 462 1177 493 1189 493"/>
<path class="p" d="M1146 527 C1168 527 1166 464 1188 464"/>

<path class="tl" d="M1093 543 C1082 543 1082 585 1096 585"/>
<path class="r" d="M1148 585 C1168 585 1166 613 1189 613"/>
<path class="o" d="M1148 597 C1168 597 1166 572 1187 572"/>
<path class="od" d="M1148 600 C1168 600 1166 615 1189 615"/>
<path class="ps" d="M1187 574 C1176 574 1176 612 1189 612"/>
<path class="p" d="M1145 653 C1166 653 1166 576 1187 576"/>

<path class="tl" d="M1093 669 C1082 669 1082 713 1093 713"/>
<path class="r" d="M1146 713 C1168 713 1166 755 1189 755"/>
<path class="o" d="M1146 727 C1168 727 1166 712 1187 712"/>
<path class="od" d="M1146 730 C1168 730 1166 757 1189 757"/>
<path class="ps" d="M1187 714 C1176 714 1176 754 1189 754"/>
<path class="p" d="M1235 717 C1290 717 1270 98 1348 98"/>

<path class="r" d="M1348 138 C1336 138 1336 177 1348 177"/>
<path class="o" d="M1397 205 C1420 205 1420 203 1442 203"/>
<path class="r" d="M1397 203 C1420 203 1415 240 1439 240"/>
<path class="od" d="M1397 208 C1420 208 1415 242 1439 242"/>
<path class="ps" d="M1442 205 C1430 205 1430 240 1439 240"/>
<path class="p" d="M1393 241 C1420 241 1418 207 1442 207"/>
<path class="p" d="M1393 242 C1415 242 1418 241 1439 241"/>
<path class="p" d="M1393 243 C1480 243 1500 207 1582 207"/>
<path class="p" d="M1635 196 C1665 196 1665 192 1696 192"/>
<path class="tl" d="M1393 273 C1480 273 1500 197 1582 197"/>
<path class="tl" d="M1393 245 C1420 245 1410 292 1441 292"/>
<path class="o" d="M1635 222 C1665 222 1665 187 1696 187"/>
<path class="r" d="M1635 220 C1665 220 1665 223 1696 223"/>
<path class="od" d="M1635 226 C1665 226 1665 221 1696 221"/>
<path class="ps" d="M1696 190 C1685 190 1685 220 1696 220"/>
<path class="r" d="M1441 294 C1429 294 1429 331 1442 331"/>
<path class="r" d="M1393 357 C1420 357 1415 331 1442 331"/>
<path class="r" d="M1390 436 C1420 436 1415 351 1442 351"/>
<path class="r" d="M1494 359 C1525 359 1525 328 1556 328"/>
<path class="td" d="M1348 244 C1337 244 1337 273 1348 273"/>
<path class="td" d="M1348 273 C1336 273 1336 305 1348 305"/>
<path class="b" d="M1348 322 C1334 322 1334 355 1348 355"/>

<path class="r" d="M1390 451 C1418 451 1418 444 1444 444"/>
<path class="r" d="M1390 467 C1418 467 1418 522 1444 522"/>
<path class="o" d="M1492 446 C1517 446 1517 444 1542 444"/>
<path class="o" d="M1444 446 C1430 446 1430 483 1439 483"/>
<path class="ps" d="M1487 479 C1515 479 1515 446 1542 446"/>
<path class="o" d="M1492 521 C1515 521 1515 514 1538 514"/>
<path class="r" d="M1492 523 C1517 523 1517 569 1541 569"/>
<path class="od" d="M1492 526 C1517 526 1517 571 1541 571"/>
<path class="ps" d="M1538 517 C1527 517 1527 568 1541 568"/>
<path class="p" d="M1588 449 C1620 449 1620 485 1649 485"/>
<path class="p" d="M1587 520 C1620 520 1620 485 1649 485"/>
</g>

<g fill="#2e9c3e">
<circle cx="163" cy="61" r="1.2"/><circle cx="110" cy="125" r="1.2"/><circle cx="110" cy="183" r="1.2"/><circle cx="110" cy="263" r="1.2"/><circle cx="110" cy="423" r="1.2"/>
<circle cx="163" cy="468" r="1.2"/><circle cx="163" cy="579" r="1.2"/><circle cx="299" cy="672" r="1.2"/><circle cx="404" cy="111" r="1.2"/><circle cx="407" cy="250" r="1.2"/>
<circle cx="407" cy="416" r="1.2"/><circle cx="403" cy="534" r="1.2"/><circle cx="609" cy="648" r="1.2"/><circle cx="611" cy="793" r="1.2"/><circle cx="618" cy="872" r="1.2"/>
<circle cx="703" cy="749" r="1.2"/><circle cx="842" cy="161" r="1.2"/><circle cx="839" cy="267" r="1.2"/><circle cx="1143" cy="189" r="1.2"/><circle cx="1146" cy="273" r="1.2"/>
<circle cx="1145" cy="352" r="1.2"/><circle cx="1146" cy="478" r="1.2"/><circle cx="1148" cy="597" r="1.2"/><circle cx="1146" cy="727" r="1.2"/><circle cx="1397" cy="205" r="1.2"/>
<circle cx="1635" cy="222" r="1.2"/><circle cx="1492" cy="446" r="1.2"/><circle cx="1492" cy="521" r="1.2"/><circle cx="1650" cy="627" r="1.2"/><circle cx="1393" cy="273" r="1.2"/>
<circle cx="936" cy="389" r="1.2"/><circle cx="935" cy="583" r="1.2"/><circle cx="1390" cy="436" r="1.2"/>
</g>
<g fill="#e53935">
<circle cx="163" cy="472" r="1.2"/><circle cx="404" cy="115" r="1.2"/><circle cx="407" cy="254" r="1.2"/><circle cx="407" cy="420" r="1.2"/><circle cx="403" cy="539" r="1.2"/>
<circle cx="609" cy="653" r="1.2"/><circle cx="611" cy="798" r="1.2"/><circle cx="842" cy="166" r="1.2"/><circle cx="839" cy="272" r="1.2"/><circle cx="1143" cy="194" r="1.2"/>
<circle cx="1146" cy="276" r="1.2"/><circle cx="1145" cy="355" r="1.2"/><circle cx="1146" cy="481" r="1.2"/><circle cx="1148" cy="600" r="1.2"/><circle cx="1146" cy="730" r="1.2"/>
<circle cx="1397" cy="208" r="1.2"/><circle cx="1635" cy="226" r="1.2"/><circle cx="1492" cy="526" r="1.2"/><circle cx="1235" cy="717" r="1.2"/><circle cx="1588" cy="449" r="1.2"/><circle cx="1587" cy="520" r="1.2"/>
</g>
<g fill="#a0a0a0">
<circle cx="110" cy="61" r="1.1"/><circle cx="349" cy="63" r="1.1"/><circle cx="792" cy="106" r="1.1"/><circle cx="1098" cy="95" r="1.1"/><circle cx="1348" cy="98" r="1.1"/>
<circle cx="1649" cy="485" r="1.1"/><circle cx="1582" cy="197" r="1.1"/><circle cx="1442" cy="331" r="1.1"/>
</g>
</svg>
</body></html>
